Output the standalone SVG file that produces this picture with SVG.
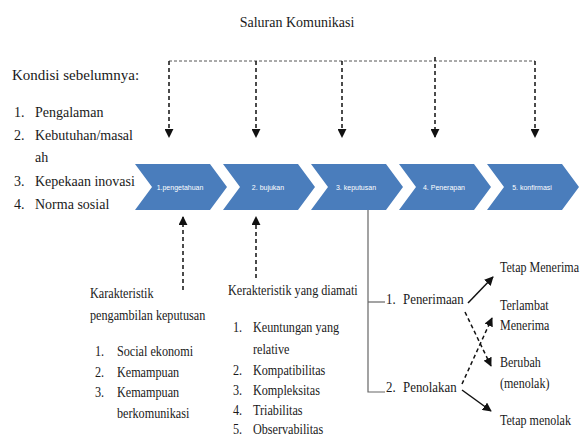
<svg xmlns="http://www.w3.org/2000/svg" width="581" height="437" viewBox="0 0 581 437">
<defs>
<style>
.chev{fill:#4a7dbc}
.dv{stroke:#111;stroke-width:1.5;stroke-dasharray:4 3;fill:none}
.dh{stroke:#555;stroke-width:1;stroke-dasharray:3 2;fill:none}
.sl{stroke:#111;stroke-width:1.5;fill:none}
.gl{stroke:#666;stroke-width:1.2;fill:none}
</style>
<marker id="ah" viewBox="0 0 10 10" refX="9" refY="5" markerWidth="9" markerHeight="9" markerUnits="userSpaceOnUse" orient="auto">
<path d="M0,0 L10,5 L0,10 z" fill="#111"/>
</marker>
</defs>
<rect width="581" height="437" fill="#ffffff"/>

<g font-family="Liberation Serif, serif" font-size="14" fill="#1a1a1a">
<text x="297" y="27" text-anchor="middle">Saluran Komunikasi</text>

<g id="kondisi">
<text x="12" y="80" font-size="15">Kondisi sebelumnya:</text>
<text x="14" y="117">1.</text><text x="35" y="117">Pengalaman</text>
<text x="14" y="140">2.</text><text x="35" y="140">Kebutuhan/masal</text>
<text x="35" y="162">ah</text>
<text x="14" y="186">3.</text><text x="35" y="186">Kepekaan inovasi</text>
<text x="14" y="209">4.</text><text x="35" y="209">Norma sosial</text>
</g>

<g id="karakteristik-pengambilan" transform="matrix(0.87 0 0 1 11.7 0)">
<text x="90" y="298">Karakteristik</text>
<text x="90" y="320">pengambilan keputusan</text>
<text x="95.7" y="356">1.</text><text x="121" y="356">Social ekonomi</text>
<text x="95.7" y="377">2.</text><text x="121" y="377">Kemampuan</text>
<text x="95.7" y="397">3.</text><text x="121" y="397">Kemampuan</text>
<text x="121" y="418">berkomunikasi</text>
</g>

<g id="karakteristik-diamati" transform="matrix(0.87 0 0 1 29.64 0)">
<text x="228" y="295">Kerakteristik yang diamati</text>
<text x="233.7" y="332">1.</text><text x="256.7" y="332">Keuntungan yang</text>
<text x="256.7" y="354">relative</text>
<text x="233.7" y="375">2.</text><text x="256.7" y="375">Kompatibilitas</text>
<text x="233.7" y="395">3.</text><text x="256.7" y="395">Kompleksitas</text>
<text x="233.7" y="415">4.</text><text x="256.7" y="415">Triabilitas</text>
<text x="233.7" y="434">5.</text><text x="256.7" y="434">Observabilitas</text>
</g>

<g id="penerimaan" transform="matrix(0.92 0 0 1 30.88 0)"><text x="386" y="304">1.</text><text x="404.5" y="304">Penerimaan</text></g>
<g id="penolakan" transform="matrix(0.92 0 0 1 30.88 0)"><text x="386" y="392">2.</text><text x="404.5" y="392">Penolakan</text></g>

<g transform="matrix(0.86 0 0 1 70 0)">
<g id="tetap-menerima"><text x="500" y="272">Tetap Menerima</text></g>
<g id="terlambat-menerima"><text x="500" y="310">Terlambat</text><text x="500" y="330">Menerima</text></g>
<g id="berubah"><text x="500" y="367">Berubah</text><text x="500" y="388">(menolak)</text></g>
<g id="tetap-menolak"><text x="500" y="425">Tetap menolak</text></g>
</g>
</g>

<g font-family="Liberation Sans, sans-serif" font-size="7" fill="#ffffff" text-anchor="middle">
<g id="chevron1"><polygon class="chev" points="135,164 210,164 227,187 210,210 135,210 152,187"/><text x="180" y="189.5">1.pengetahuan</text></g>
<g id="chevron2"><polygon class="chev" points="223,164 298,164 315,187 298,210 223,210 240,187"/><text x="268" y="189.5">2. bujukan</text></g>
<g id="chevron3"><polygon class="chev" points="311,164 386,164 403,187 386,210 311,210 328,187"/><text x="356" y="189.5">3. keputusan</text></g>
<g id="chevron4"><polygon class="chev" points="399,164 474,164 491,187 474,210 399,210 416,187"/><text x="444" y="189.5">4. Penerapan</text></g>
<g id="chevron5"><polygon class="chev" points="487,164 562,164 579,187 562,210 487,210 504,187"/><text x="532" y="189.5">5. konfirmasi</text></g>
</g>

<g id="connectors">
<path class="dh" d="M169,61 H535"/>
<path class="dv" d="M169,61 V137" marker-end="url(#ah)"/>
<path class="dv" d="M256,61 V137" marker-end="url(#ah)"/>
<path class="dv" d="M342,61 V137" marker-end="url(#ah)"/>
<path class="dv" d="M435,57 V137" marker-end="url(#ah)"/>
<path class="dv" d="M535,61 V137" marker-end="url(#ah)"/>
<path class="dv" d="M183,290 V217" marker-end="url(#ah)"/>
<path class="dv" d="M256,278 V217" marker-end="url(#ah)"/>
<path class="gl" d="M368,210 V392 H385"/>
<path class="gl" d="M368,302 H385"/>
<path class="sl" d="M468,303 L493,277" marker-end="url(#ah)"/>
<path class="dv" d="M465,312 L491,366" marker-end="url(#ah)"/>
<path class="dv" d="M462,384 L492,318" marker-end="url(#ah)"/>
<path class="sl" d="M462,390 L491,411" marker-end="url(#ah)"/>
</g>
</svg>
